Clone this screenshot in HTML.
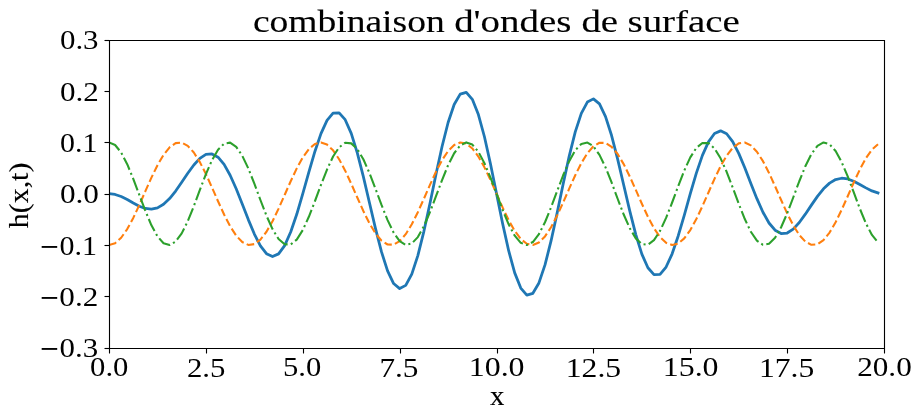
<!DOCTYPE html>
<html><head><meta charset="utf-8"><style>html,body{margin:0;padding:0;background:#fff;}svg{display:block;will-change:transform;}</style></head><body>
<svg width="921" height="419" viewBox="0 0 921 419">
<rect width="921" height="419" fill="#fff"/>
<defs><clipPath id="c"><rect x="109" y="40" width="775" height="308"/></clipPath></defs>
<g clip-path="url(#c)" fill="none" stroke-linejoin="round">
<path d="M109.05,193.72 L115.10,194.45 L121.16,196.52 L127.21,199.56 L133.27,203.02 L139.32,206.23 L145.38,208.49 L151.43,209.20 L157.49,207.88 L163.54,204.32 L169.60,198.59 L175.65,191.04 L181.71,182.32 L187.76,173.29 L193.82,164.96 L199.87,158.36 L205.93,154.43 L211.98,153.91 L218.03,157.22 L224.09,164.44 L230.14,175.20 L236.20,188.76 L242.25,204.02 L248.31,219.61 L254.36,234.05 L260.42,245.86 L266.47,253.70 L272.53,256.58 L278.58,253.89 L284.64,245.56 L290.69,232.02 L296.75,214.27 L302.80,193.72 L308.85,172.14 L314.91,151.46 L320.96,133.63 L327.02,120.40 L333.07,113.17 L339.13,112.84 L345.18,119.69 L351.24,133.36 L357.29,152.83 L363.35,176.54 L369.40,202.48 L375.46,228.37 L381.51,251.90 L387.57,270.89 L393.62,283.54 L399.68,288.57 L405.73,285.38 L411.78,274.09 L417.84,255.56 L423.89,231.32 L429.95,203.42 L436.00,174.29 L442.06,146.50 L448.11,122.52 L454.17,104.51 L460.22,94.12 L466.28,92.32 L472.33,99.33 L478.39,114.57 L484.44,136.75 L490.50,163.93 L496.55,193.72 L502.60,223.51 L508.66,250.69 L514.71,272.87 L520.77,288.11 L526.82,295.12 L532.88,293.32 L538.93,282.93 L544.99,264.92 L551.04,240.94 L557.10,213.15 L563.15,184.02 L569.21,156.12 L575.26,131.88 L581.32,113.35 L587.37,102.06 L593.42,98.87 L599.48,103.90 L605.53,116.55 L611.59,135.54 L617.64,159.07 L623.70,184.96 L629.75,210.90 L635.81,234.61 L641.86,254.08 L647.92,267.75 L653.97,274.60 L660.03,274.27 L666.08,267.04 L672.14,253.81 L678.19,235.98 L684.25,215.30 L690.30,193.72 L696.35,173.17 L702.41,155.42 L708.46,141.88 L714.52,133.55 L720.57,130.86 L726.63,133.74 L732.68,141.58 L738.74,153.39 L744.79,167.83 L750.85,183.42 L756.90,198.68 L762.96,212.24 L769.01,223.00 L775.07,230.22 L781.12,233.53 L787.17,233.01 L793.23,229.08 L799.28,222.48 L805.34,214.15 L811.39,205.12 L817.45,196.40 L823.50,188.85 L829.56,183.12 L835.61,179.56 L841.67,178.24 L847.72,178.95 L853.78,181.21 L859.83,184.42 L865.89,187.88 L871.94,190.92 L878.00,192.99" stroke="#1f77b4" stroke-width="2.778" stroke-linecap="square"/>
<path d="M109.05,245.05 L115.10,243.19 L121.16,237.75 L127.21,229.12 L133.27,217.92 L139.32,204.97 L145.38,191.20 L151.43,177.62 L157.49,165.20 L163.54,154.85 L169.60,147.32 L175.65,143.14 L181.71,142.63 L187.76,145.83 L193.82,152.49 L199.87,162.14 L205.93,174.08 L211.98,187.44 L218.03,201.25 L224.09,214.52 L230.14,226.29 L236.20,235.69 L242.25,242.05 L248.31,244.91 L254.36,244.07 L260.42,239.57 L266.47,231.76 L272.53,221.18 L278.58,208.62 L284.64,194.98 L290.69,181.25 L296.75,168.42 L302.80,157.42 L308.85,149.06 L314.91,143.93 L320.96,142.40 L327.02,144.60 L333.07,150.35 L339.13,159.25 L345.18,170.64 L351.24,183.71 L357.29,197.50 L363.35,211.01 L369.40,223.28 L375.46,233.40 L381.51,240.65 L387.57,244.50 L393.62,244.67 L399.68,241.15 L405.73,234.19 L411.78,224.30 L417.84,212.19 L423.89,198.75 L429.95,184.94 L436.00,171.77 L442.06,160.19 L448.11,151.04 L454.17,144.98 L460.22,142.45 L466.28,143.63 L472.33,148.45 L478.39,156.54 L484.44,167.33 L490.50,180.03 L496.55,193.72 L502.60,207.41 L508.66,220.11 L514.71,230.90 L520.77,238.99 L526.82,243.81 L532.88,244.99 L538.93,242.46 L544.99,236.40 L551.04,227.25 L557.10,215.67 L563.15,202.50 L569.21,188.69 L575.26,175.25 L581.32,163.14 L587.37,153.25 L593.42,146.29 L599.48,142.77 L605.53,142.94 L611.59,146.79 L617.64,154.04 L623.70,164.16 L629.75,176.43 L635.81,189.94 L641.86,203.73 L647.92,216.80 L653.97,228.19 L660.03,237.09 L666.08,242.84 L672.14,245.04 L678.19,243.51 L684.25,238.38 L690.30,230.02 L696.35,219.02 L702.41,206.19 L708.46,192.46 L714.52,178.82 L720.57,166.26 L726.63,155.68 L732.68,147.87 L738.74,143.37 L744.79,142.53 L750.85,145.39 L756.90,151.75 L762.96,161.15 L769.01,172.92 L775.07,186.19 L781.12,200.00 L787.17,213.36 L793.23,225.30 L799.28,234.95 L805.34,241.61 L811.39,244.81 L817.45,244.30 L823.50,240.12 L829.56,232.59 L835.61,222.24 L841.67,209.82 L847.72,196.24 L853.78,182.47 L859.83,169.52 L865.89,158.32 L871.94,149.69 L878.00,144.25" stroke="#ff7f0e" stroke-width="2.083" stroke-dasharray="7.708 3.333"/>
<path d="M109.05,142.39 L115.10,144.98 L121.16,152.49 L127.21,164.16 L133.27,178.82 L139.32,194.98 L145.38,211.01 L151.43,225.30 L157.49,236.40 L163.54,243.19 L169.60,244.99 L175.65,241.61 L181.71,233.40 L187.76,221.18 L193.82,206.19 L199.87,189.94 L205.93,174.08 L211.98,160.19 L218.03,149.69 L224.09,143.63 L230.14,142.63 L236.20,146.79 L242.25,155.68 L248.31,168.42 L254.36,183.71 L260.42,200.00 L266.47,215.67 L272.53,229.12 L278.58,238.99 L284.64,244.30 L290.69,244.50 L296.75,239.57 L302.80,230.02 L308.85,216.80 L314.91,201.25 L320.96,184.94 L327.02,169.52 L333.07,156.54 L339.13,147.32 L345.18,142.77 L351.24,143.37 L357.29,149.06 L363.35,159.25 L369.40,172.92 L375.46,188.69 L381.51,204.97 L387.57,220.11 L393.62,232.59 L399.68,241.15 L405.73,244.91 L411.78,243.51 L417.84,237.09 L423.89,226.29 L429.95,212.19 L436.00,196.24 L442.06,180.03 L448.11,165.20 L454.17,153.25 L460.22,145.39 L466.28,142.40 L472.33,144.60 L478.39,151.75 L484.44,163.14 L490.50,177.62 L496.55,193.72 L502.60,209.82 L508.66,224.30 L514.71,235.69 L520.77,242.84 L526.82,245.04 L532.88,242.05 L538.93,234.19 L544.99,222.24 L551.04,207.41 L557.10,191.20 L563.15,175.25 L569.21,161.15 L575.26,150.35 L581.32,143.93 L587.37,142.53 L593.42,146.29 L599.48,154.85 L605.53,167.33 L611.59,182.47 L617.64,198.75 L623.70,214.52 L629.75,228.19 L635.81,238.38 L641.86,244.07 L647.92,244.67 L653.97,240.12 L660.03,230.90 L666.08,217.92 L672.14,202.50 L678.19,186.19 L684.25,170.64 L690.30,157.42 L696.35,147.87 L702.41,142.94 L708.46,143.14 L714.52,148.45 L720.57,158.32 L726.63,171.77 L732.68,187.44 L738.74,203.73 L744.79,219.02 L750.85,231.76 L756.90,240.65 L762.96,244.81 L769.01,243.81 L775.07,237.75 L781.12,227.25 L787.17,213.36 L793.23,197.50 L799.28,181.25 L805.34,166.26 L811.39,154.04 L817.45,145.83 L823.50,142.45 L829.56,144.25 L835.61,151.04 L841.67,162.14 L847.72,176.43 L853.78,192.46 L859.83,208.62 L865.89,223.28 L871.94,234.95 L878.00,242.46" stroke="#2ca02c" stroke-width="2.083" stroke-dasharray="13.333 3.333 2.083 3.333"/>
</g>
<g stroke="#000" stroke-width="1.111" fill="none" stroke-linecap="square">
<path d="M109.5,40.5 L884.5,40.5 L884.5,348.5 L109.5,348.5 Z"/>
</g>
<g stroke="#000" stroke-width="1.111" fill="none">
<path d="M109.5,348.50 V353.50"/>
<path d="M206.5,348.50 V353.50"/>
<path d="M303.5,348.50 V353.50"/>
<path d="M400.5,348.50 V353.50"/>
<path d="M497.5,348.50 V353.50"/>
<path d="M593.5,348.50 V353.50"/>
<path d="M690.5,348.50 V353.50"/>
<path d="M787.5,348.50 V353.50"/>
<path d="M884.5,348.50 V353.50"/>
<path d="M109.50,348.5 H104.50"/>
<path d="M109.50,296.5 H104.50"/>
<path d="M109.50,245.5 H104.50"/>
<path d="M109.50,194.5 H104.50"/>
<path d="M109.50,142.5 H104.50"/>
<path d="M109.50,91.5 H104.50"/>
<path d="M109.50,40.5 H104.50"/>
</g>
<g font-family="&quot;Liberation Serif&quot;, serif" font-size="100" fill="#000">
<text transform="matrix(0.309402,0,0,0.270149,59.912,48.560)">0.3</text>
<text transform="matrix(0.310435,0,0,0.270597,59.908,100.529)">0.2</text>
<text transform="matrix(0.299130,0,0,0.267794,59.953,151.524)">0.1</text>
<text transform="matrix(0.311966,0,0,0.271791,59.902,202.516)">0.0</text>
<text transform="matrix(0.300000,0,0,0.266618,59.600,254.537)">0.1</text>
<text transform="matrix(0.311304,0,0,0.269403,59.355,305.511)">0.2</text>
<text transform="matrix(0.309402,0,0,0.271642,59.562,356.657)">0.3</text>
<rect x="41.68" y="246.02" width="15.52" height="1.84" stroke="none"/>
<rect x="41.68" y="297.02" width="15.52" height="1.84" stroke="none"/>
<rect x="41.68" y="348.02" width="15.52" height="1.84" stroke="none"/>
<text transform="matrix(0.306838,0,0,0.271642,90.073,376.257)">0.0</text>
<text transform="matrix(0.307692,0,0,0.275758,186.969,376.524)">2.5</text>
<text transform="matrix(0.306087,0,0,0.271642,282.963,376.257)">5.0</text>
<text transform="matrix(0.312281,0,0,0.275758,379.414,376.524)">7.5</text>
<text transform="matrix(0.319136,0,0,0.267647,468.728,376.265)">10.0</text>
<text transform="matrix(0.316667,0,0,0.271642,565.750,376.528)">12.5</text>
<text transform="matrix(0.319136,0,0,0.267647,662.728,376.265)">15.0</text>
<text transform="matrix(0.316049,0,0,0.271642,758.956,376.528)">17.5</text>
<text transform="matrix(0.311976,0,0,0.271642,857.152,376.257)">20.0</text>
<text transform="matrix(0.287500,0,0,0.269565,489.912,405.000)" stroke="#000" stroke-width="0.4">x</text>
<text transform="matrix(0,-0.298832,0.265217,0,28.000,228.199)" stroke="#000" stroke-width="0.4">h(x,t)</text>
<text transform="matrix(0.375446,0,0,0.325714,252.898,32.374)" stroke="#000" stroke-width="0.4">combinaison</text>
<text transform="matrix(0.389116,0,0,0.325714,454.144,32.374)" stroke="#000" stroke-width="0.4">d&#39;ondes</text>
<text transform="matrix(0.388506,0,0,0.325714,581.446,32.374)" stroke="#000" stroke-width="0.4">de</text>
<text transform="matrix(0.389502,0,0,0.325714,627.492,32.374)" stroke="#000" stroke-width="0.4">surface</text>
</g>
</svg>
</body></html>
